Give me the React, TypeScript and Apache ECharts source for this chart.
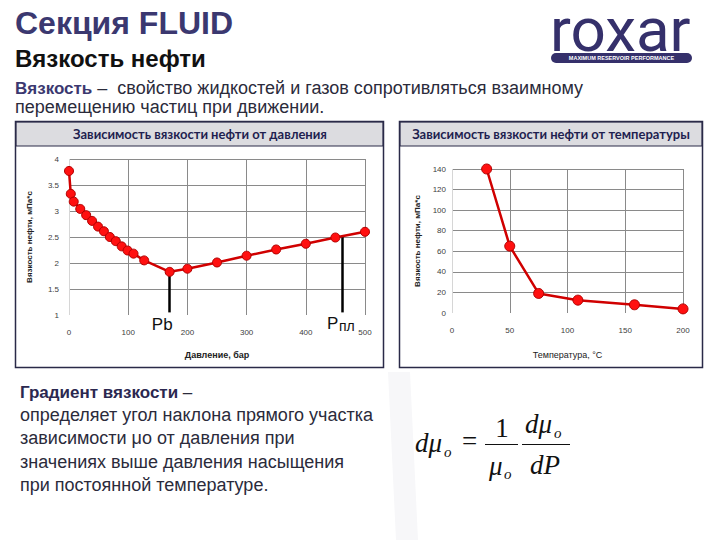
import React, { useEffect, useRef } from "react";
import * as echarts from "echarts";

// ---- data ----
const pressure = [0, 3, 8, 19, 29, 39, 49, 59, 69, 79, 89, 99, 109, 127, 170, 200, 250, 300, 350, 400, 450, 500];
const viscByPressure = [3.77, 3.33, 3.18, 3.04, 2.92, 2.81, 2.7, 2.61, 2.5, 2.42, 2.32, 2.24, 2.18, 2.05, 1.83, 1.89, 2.01, 2.14, 2.26, 2.37, 2.49, 2.6];
const temperature = [30, 50, 75, 109, 158, 200];
const viscByTemp = [140, 65, 19, 12.5, 8, 4];
const pbPressure = 170;
const pbVisc = 1.83;
const resPressure = 461;
const resVisc = 2.51;
const markerBottom = 1.05;

const SANS = "'Liberation Sans', Arial, sans-serif";
const SERIF = "'Liberation Serif', 'Times New Roman', serif";
const CAL = "Lato, 'Open Sans', sans-serif";
const NAVY = "#3b3870";
const GRID = "#8a8a8a";
const BODY = "#2b2b3b";

function txt(x: number, y: number, text: string, o: any = {}) {
  return {
    type: "text",
    x,
    y,
    z: 10,
    style: {
      text,
      fontSize: o.size ?? 16,
      fontFamily: o.family ?? SANS,
      fontWeight: o.weight ?? "normal",
      fontStyle: o.style ?? "normal",
      fill: o.fill ?? "#222",
      textAlign: o.align ?? "left",
      align: o.align ?? "left",
      textVerticalAlign: "middle",
      verticalAlign: "middle",
      lineHeight: o.lineHeight,
      rich: o.rich,
    },
  };
}

export default function App() {
  const ref = useRef<HTMLDivElement>(null);
  useEffect(() => {
    document.body.style.margin = "0";
    const chart = echarts.init(ref.current!, null, { renderer: "svg", width: 720, height: 540 });
    const axisLabel = { fontSize: 8, color: "#404040", fontFamily: SANS };
    const option: any = {
      animation: false,
      backgroundColor: "#ffffff",
      grid: [
        { left: 69, top: 159, width: 296, height: 156 },
        { left: 452, top: 169, width: 231, height: 144 },
      ],
      xAxis: [
        {
          type: "value", gridIndex: 0, min: 0, max: 500, interval: 100,
          axisLine: { show: false }, axisTick: { show: false },
          axisLabel: { ...axisLabel, margin: 13 },
          splitLine: { show: true, lineStyle: { color: ["#d6d6d6", GRID, GRID, GRID, GRID, GRID], width: 1 } },
          name: "Давление, бар", nameLocation: "middle", nameGap: 35,
          nameTextStyle: { fontSize: 9, fontWeight: "bold", color: "#222", fontFamily: SANS },
        },
        {
          type: "value", gridIndex: 1, min: 0, max: 200, interval: 50,
          axisLine: { show: false }, axisTick: { show: false },
          axisLabel: { ...axisLabel, margin: 13 },
          splitLine: { show: true, lineStyle: { color: ["#d6d6d6", GRID, GRID, GRID, GRID], width: 1 } },
          name: "Температура, °С", nameLocation: "middle", nameGap: 37,
          nameTextStyle: { fontSize: 9, color: "#222", fontFamily: SANS },
        },
      ],
      yAxis: [
        {
          type: "value", gridIndex: 0, min: 1, max: 4, interval: 0.5,
          axisLine: { show: false }, axisTick: { show: false },
          axisLabel: { ...axisLabel, margin: 10 },
          splitLine: { show: true, lineStyle: { color: ["rgba(0,0,0,0)", GRID, GRID, GRID, GRID, GRID, GRID], width: 1 } },
          name: "Вязкость нефти, мПа*с", nameLocation: "middle", nameRotate: 90, nameGap: 36,
          nameTextStyle: { fontSize: 8, fontWeight: "bold", color: "#222", fontFamily: SANS },
        },
        {
          type: "value", gridIndex: 1, min: 0, max: 140, interval: 20,
          axisLine: { show: false }, axisTick: { show: false },
          axisLabel: { ...axisLabel, margin: 6 },
          splitLine: { show: true, lineStyle: { color: ["rgba(0,0,0,0)", GRID, GRID, GRID, GRID, GRID, GRID, GRID], width: 1 } },
          name: "Вязкость нефти, мПа*с", nameLocation: "middle", nameRotate: 90, nameGap: 31,
          nameTextStyle: { fontSize: 8, fontWeight: "bold", color: "#222", fontFamily: SANS },
        },
      ],
      series: [
        {
          type: "line", xAxisIndex: 0, yAxisIndex: 0,
          data: pressure.map((p, i) => [p, viscByPressure[i]]),
          symbol: "circle", symbolSize: 9,
          lineStyle: { color: "#d00000", width: 2.5 },
          itemStyle: { color: "#ff1010", borderColor: "#b00000", borderWidth: 1 },
          z: 3,
          markLine: {
            silent: true, symbol: "none", z: 2,
            label: { show: false },
            lineStyle: { color: "#000", width: 2.5, type: "solid" },
            data: [
              [{ coord: [pbPressure, pbVisc] }, { coord: [pbPressure, markerBottom] }],
              [{ coord: [resPressure, resVisc] }, { coord: [resPressure, markerBottom] }],
            ],
          },
        },
        {
          type: "line", xAxisIndex: 1, yAxisIndex: 1,
          data: temperature.map((t, i) => [t, viscByTemp[i]]),
          symbol: "circle", symbolSize: 10,
          lineStyle: { color: "#d00000", width: 2.5 },
          itemStyle: { color: "#ff1010", borderColor: "#b00000", borderWidth: 1 },
          z: 3,
        },
      ],
    };
    chart.setOption(option);

    const pb = chart.convertToPixel({ gridIndex: 0 }, [pbPressure, markerBottom]) as number[];
    const rp = chart.convertToPixel({ gridIndex: 0 }, [resPressure, markerBottom]) as number[];

    const formula = { family: SERIF, style: "italic", fill: "#111" };
    const graphic: any[] = [
      // faint background swoosh
      { type: "polygon", z: -1, shape: { points: [[388, 372], [410, 372], [418, 540], [396, 540]] }, style: { fill: "#f7f7f9" } },
      // panels
      { type: "rect", shape: { x: 16, y: 122, width: 367, height: 24 }, style: { fill: "#dcdce0", stroke: "#2a2a48", lineWidth: 1 } },
      { type: "rect", shape: { x: 15.5, y: 121.5, width: 368, height: 246 }, style: { fill: "none", stroke: "#2a2a48", lineWidth: 1.5 } },
      { type: "rect", shape: { x: 400, y: 122, width: 302, height: 24 }, style: { fill: "#dcdce0", stroke: "#2a2a48", lineWidth: 1 } },
      { type: "rect", shape: { x: 399.5, y: 121.5, width: 303, height: 246 }, style: { fill: "none", stroke: "#2a2a48", lineWidth: 1.5 } },
      txt(200, 134, "Зависимость вязкости нефти от давления", { size: 13, family: CAL, weight: "bold", fill: "#1f1f50", align: "center" }),
      txt(551, 134, "Зависимость вязкости нефти от температуры", { size: 13, family: CAL, weight: "bold", fill: "#1f1f50", align: "center" }),
      // headings
      txt(15, 23, "Секция FLUID", { size: 32, weight: "bold", fill: NAVY }),
      txt(15, 58, "Вязкость нефти", { size: 24, weight: "bold", fill: "#111" }),
      txt(15, 88, "{b|Вязкость}{n| –  свойство жидкостей и газов сопротивляться взаимному}", {
        size: 18,
        rich: {
          b: { fontSize: 17, fontWeight: "bold", fill: NAVY, color: NAVY, fontFamily: SANS },
          n: { fontSize: 18, fill: BODY, color: BODY, fontFamily: SANS },
        },
      }),
      txt(15, 107, "перемещению частиц при движении.", { size: 18, fill: BODY }),
      // bottom text
      txt(20, 392, "{b|Градиент вязкости}{n| –}", {
        size: 17,
        rich: {
          b: { fontSize: 17, fontWeight: "bold", fill: "#2b2850", color: "#2b2850", fontFamily: SANS },
          n: { fontSize: 17, fill: BODY, color: BODY, fontFamily: SANS },
        },
      }),
      txt(20, 415, "определяет угол наклона прямого участка", { size: 18, fill: BODY }),
      txt(20, 438, "зависимости μо от давления при", { size: 18, fill: BODY }),
      txt(20, 462, "значениях выше давления насыщения", { size: 18, fill: BODY }),
      txt(20, 485, "при постоянной температуре.", { size: 18, fill: BODY }),
      // formula
      txt(415, 443, "dμ", { size: 27, ...formula }),
      txt(444, 452, "o", { size: 15, ...formula }),
      txt(462, 441, "=", { size: 27, family: SERIF, fill: "#111" }),
      txt(502, 428, "1", { size: 27, family: SERIF, fill: "#111", align: "center" }),
      { type: "line", shape: { x1: 485, y1: 444.5, x2: 518, y2: 444.5 }, style: { stroke: "#111", lineWidth: 1.2 } },
      txt(489, 466, "μ", { size: 27, ...formula }),
      txt(504, 474, "o", { size: 15, ...formula }),
      { type: "line", shape: { x1: 522, y1: 444.5, x2: 570, y2: 444.5 }, style: { stroke: "#111", lineWidth: 1.2 } },
      txt(525, 424, "dμ", { size: 27, ...formula }),
      txt(554, 433, "o", { size: 15, ...formula }),
      txt(530, 465, "dP", { size: 27, ...formula }),
      // logo
      txt(550, 29, "roxar", { size: 62, lineHeight: 40, family: "Roboto, sans-serif", weight: 400, fill: "#35306b" }),
      { type: "rect", shape: { x: 551, y: 53, width: 141, height: 10, r: 5 }, style: { fill: "#35306b" } },
      txt(621.5, 58, "MAXIMUM RESERVOIR PERFORMANCE", { size: 5.5, lineHeight: 7, weight: "bold", fill: "#ffffff", align: "center" }),
      // annotations
      txt(pb[0] + 3, pb[1] + 12, "Pb", { size: 17, fill: "#111", align: "right" }),
      txt(rp[0] - 15, rp[1] + 11, "Р", { size: 17, fill: "#111" }),
      txt(rp[0] - 3, rp[1] + 14, "пл", { size: 14, fill: "#111" }),
    ];
    chart.setOption({ graphic });
    return () => chart.dispose();
  }, []);
  return <div ref={ref} style={{ position: "fixed", left: 0, top: 0, width: 720, height: 540 }} />;
}
